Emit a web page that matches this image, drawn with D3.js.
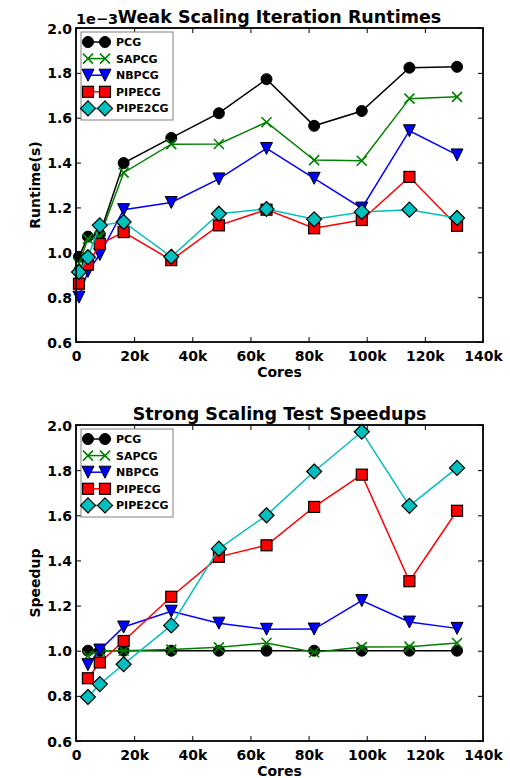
<!DOCTYPE html>
<html>
<head>
<meta charset="utf-8">
<script src="https://cdn.jsdelivr.net/npm/d3@7"></script>
<style>
  body { margin: 0; background: #fff; }
  text { font-family: "DejaVu Sans", sans-serif; font-weight: bold; }
</style>
</head>
<body>
<div id="chart"></div>
<script>
// core counts
var weakCores = [1024, 4096, 8192, 16384, 32768, 49152, 65536, 81920, 98304, 114688, 131072];
var strongCores = [4096, 8192, 16384, 32768, 49152, 65536, 81920, 98304, 114688, 131072];

var seriesNames = ["PCG", "SAPCG", "NBPCG", "PIPECG", "PIPE2CG"];

// weak scaling runtimes (x 1e-3 s)
var weakPCG     = [0.98, 1.07, 1.08, 1.398, 1.51, 1.62, 1.772, 1.564, 1.63, 1.823, 1.827];
var weakSAPCG   = [0.95, 1.06, 1.07, 1.355, 1.482, 1.483, 1.58, 1.411, 1.408, 1.685, 1.693];
var weakNBPCG   = [0.80, 0.915, 0.99, 1.19, 1.222, 1.327, 1.463, 1.33, 1.197, 1.542, 1.434];
var weakPIPECG  = [0.86, 0.945, 1.037, 1.09, 0.965, 1.12, 1.19, 1.107, 1.144, 1.336, 1.118];
var weakPIPE2CG = [0.912, 0.978, 1.12, 1.135, 0.98, 1.172, 1.193, 1.147, 1.18, 1.19, 1.153];

// strong scaling speedups
var strongPCG     = [1.0, 1.0, 1.0, 1.0, 1.0, 1.0, 1.0, 1.0, 1.0, 1.0];
var strongSAPCG   = [0.977, 1.0, 1.0, 1.005, 1.015, 1.034, 0.993, 1.016, 1.018, 1.034];
var strongNBPCG   = [0.938, 1.003, 1.105, 1.175, 1.122, 1.095, 1.096, 1.222, 1.127, 1.099];
var strongPIPECG  = [0.878, 0.948, 1.043, 1.239, 1.416, 1.467, 1.637, 1.78, 1.308, 1.62];
var strongPIPE2CG = [0.795, 0.852, 0.94, 1.112, 1.452, 1.6, 1.794, 1.97, 1.642, 1.81];

var xTicks = [0, 20000, 40000, 60000, 80000, 100000, 120000, 140000];
var yTicks = [0.6, 0.8, 1.0, 1.2, 1.4, 1.6, 1.8, 2.0];

var colors = { PCG: "#000000", SAPCG: "#008000", NBPCG: "#0000ff", PIPECG: "#ff0000", PIPE2CG: "#00bfbf" };
var symbols = { PCG: "circle", SAPCG: "x", NBPCG: "tri", PIPECG: "square", PIPE2CG: "diamond" };

var width = 510, height = 778;
var svg = d3.select("#chart").append("svg")
  .attr("width", width)
  .attr("height", height);

function drawMarker(g, kind, color, cx, cy) {
  if (kind == "circle") {
    g.append("circle").attr("cx", cx).attr("cy", cy).attr("r", 5.5)
      .attr("fill", color).attr("stroke", "#000").attr("stroke-width", 1);
  } else if (kind == "square") {
    g.append("rect").attr("x", cx - 5.5).attr("y", cy - 5.5).attr("width", 11).attr("height", 11)
      .attr("fill", color).attr("stroke", "#000").attr("stroke-width", 1.2);
  } else if (kind == "tri") {
    var s = 6;
    g.append("path").attr("d", "M" + (cx - s) + "," + (cy - s) + "L" + (cx + s) + "," + (cy - s) + "L" + cx + "," + (cy + s) + "Z")
      .attr("fill", color).attr("stroke", "#000").attr("stroke-width", 1);
  } else if (kind == "diamond") {
    var d = 7.5;
    g.append("path").attr("d", "M" + cx + "," + (cy - d) + "L" + (cx + d) + "," + cy + "L" + cx + "," + (cy + d) + "L" + (cx - d) + "," + cy + "Z")
      .attr("fill", color).attr("stroke", "#000").attr("stroke-width", 1.2);
  } else if (kind == "x") {
    var e = 5;
    g.append("path").attr("d", "M" + (cx - e) + "," + (cy - e) + "L" + (cx + e) + "," + (cy + e) + "M" + (cx - e) + "," + (cy + e) + "L" + (cx + e) + "," + (cy - e))
      .attr("stroke", color).attr("stroke-width", 1.6).attr("fill", "none");
  }
}

function drawPanel(opts) {
  var left = 76, right = 483;
  var x = d3.scaleLinear().domain([0, 140000]).range([left, right]);
  var y = d3.scaleLinear().domain([0.6, 2.0]).range([opts.bottom, opts.top]);

  var g = svg.append("g");

  // ticks inside, on all four sides
  var tickFmt = function (d) { return d == 0 ? "0" : (d / 1000) + "k"; };
  var xb = g.append("g").attr("transform", "translate(0," + opts.bottom + ")")
    .call(d3.axisBottom(x).tickValues(xTicks).tickFormat(tickFmt).tickSizeInner(-5).tickSizeOuter(0).tickPadding(6));
  var xt = g.append("g").attr("transform", "translate(0," + opts.top + ")")
    .call(d3.axisTop(x).tickValues(xTicks).tickFormat("").tickSizeInner(-5).tickSizeOuter(0));
  var yl = g.append("g").attr("transform", "translate(" + left + ",0)")
    .call(d3.axisLeft(y).tickValues(yTicks).tickFormat(d3.format(".1f")).tickSizeInner(-5).tickSizeOuter(0).tickPadding(4));
  var yr = g.append("g").attr("transform", "translate(" + right + ",0)")
    .call(d3.axisRight(y).tickValues(yTicks).tickFormat("").tickSizeInner(-5).tickSizeOuter(0));
  [xb, xt, yl, yr].forEach(function (a) {
    a.select(".domain").remove();
    a.selectAll("line").attr("stroke", "#000").attr("stroke-width", 1);
    a.selectAll("text").attr("font-size", 14).attr("fill", "#000")
      .style("font-family", "DejaVu Sans").style("font-weight", "bold");
  });
  xb.selectAll("text").attr("dy", "0.9em");
  yl.selectAll("text").attr("dy", "0.36em");

  // lines + markers, series in order
  seriesNames.forEach(function (name, i) {
    var vals = opts.values[i];
    var pts = opts.cores.map(function (c, j) { return [x(c), y(vals[j])]; });
    var sg = g.append("g");
    sg.append("path").attr("d", d3.line()(pts))
      .attr("fill", "none").attr("stroke", colors[name]).attr("stroke-width", 1.5);
    pts.forEach(function (p) { drawMarker(sg, symbols[name], colors[name], p[0], p[1]); });
  });

  // frame
  g.append("rect").attr("x", left).attr("y", opts.top)
    .attr("width", right - left).attr("height", opts.bottom - opts.top)
    .attr("fill", "none").attr("stroke", "#000").attr("stroke-width", 1.8);

  // legend
  var lg = g.append("g").attr("transform", "translate(" + (left + 5) + "," + (opts.top + 4) + ")");
  lg.append("rect").attr("width", 92).attr("height", 88)
    .attr("fill", "#fff").attr("stroke", "#808080").attr("stroke-width", 1);
  seriesNames.forEach(function (name, i) {
    var ry = 10 + i * 16.6;
    lg.append("line").attr("x1", 7).attr("x2", 24).attr("y1", ry).attr("y2", ry)
      .attr("stroke", colors[name]).attr("stroke-width", 1.5);
    drawMarker(lg, symbols[name], colors[name], 7, ry);
    drawMarker(lg, symbols[name], colors[name], 24, ry);
    lg.append("text").attr("x", 35).attr("y", ry).attr("dy", "0.36em")
      .attr("font-size", 11).text(name);
  });

  // title and labels
  g.append("text").attr("x", (left + right) / 2).attr("y", opts.top - 5)
    .attr("text-anchor", "middle").attr("font-size", 17.5).text(opts.title);
  g.append("text").attr("x", (left + right) / 2).attr("y", opts.bottom + 35)
    .attr("text-anchor", "middle").attr("font-size", 14).text("Cores");
  g.append("text").attr("transform", "translate(40," + ((opts.top + opts.bottom) / 2) + ") rotate(-90)")
    .attr("text-anchor", "middle").attr("font-size", 14).text(opts.ylabel);
  if (opts.offset) {
    g.append("text").attr("x", left).attr("y", opts.top - 4)
      .attr("font-size", 14.5).text(opts.offset);
  }
}

drawPanel({
  top: 28, bottom: 342, cores: weakCores,
  values: [weakPCG, weakSAPCG, weakNBPCG, weakPIPECG, weakPIPE2CG],
  title: "Weak Scaling Iteration Runtimes", ylabel: "Runtime(s)", offset: "1e\u22123"
});
drawPanel({
  top: 425, bottom: 741, cores: strongCores,
  values: [strongPCG, strongSAPCG, strongNBPCG, strongPIPECG, strongPIPE2CG],
  title: "Strong Scaling Test Speedups", ylabel: "Speedup"
});
</script>
</body>
</html>
